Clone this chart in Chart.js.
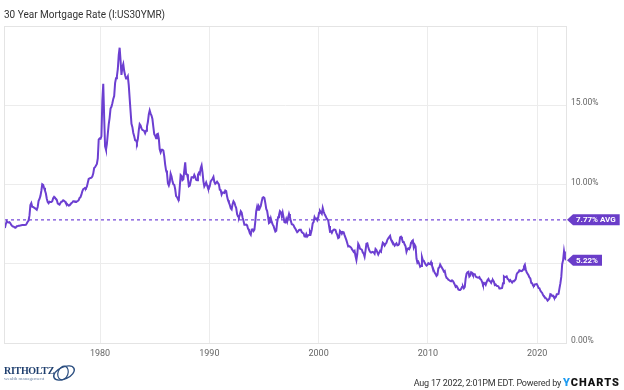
<!DOCTYPE html>
<html>
<head>
<meta charset="utf-8">
<script src="https://cdn.jsdelivr.net/npm/chart.js@4"></script>
<style>
  html, body { margin: 0; padding: 0; background: #fff; }
  #wrap { position: relative; width: 624px; height: 390px; font-family: Roboto, sans-serif; }
  #chartBox { position: absolute; left: 0; top: 0; width: 624px; height: 390px; }
  .title { position: absolute; left: 4px; top: 9px; font-size: 10px; color: #333; }
  .footer { position: absolute; right: 4px; top: 376px; font-size: 9px; color: #333; letter-spacing: -0.2px; }
  .footer b { font-size: 11px; color: #111; letter-spacing: 1px; font-weight: 900; }
  .footer b span { color: #1e9bf0; }
  .logo { position: absolute; left: 4px; top: 366px; color: #1f3f6e; font-family: "Liberation Serif", serif; }
  .logo .name { font-size: 10px; font-weight: bold; letter-spacing: -0.3px; line-height: 10px; }
  .logo .sub { font-size: 5px; color: #6f86a6; line-height: 6px; }
  .logo svg { position: absolute; left: 47px; top: -3px; }
</style>
</head>
<body>
<div id="wrap">
  <div id="chartBox"><canvas id="myChart"></canvas></div>
  <div class="title">30 Year Mortgage Rate (I:US30YMR)</div>
  <div class="logo">
    <div class="name">RITHOLTZ</div>
    <div class="sub">wealth management</div>
    <svg width="26" height="20" viewBox="0 0 26 20">
      <ellipse cx="13" cy="10" rx="11" ry="6" fill="none" stroke="#2c4f80" stroke-width="1.4" transform="rotate(-25 13 10)"/>
      <ellipse cx="12" cy="10" rx="5" ry="7" fill="none" stroke="#2c4f80" stroke-width="1.2" transform="rotate(20 12 10)"/>
    </svg>
  </div>
  <div class="footer">Aug 17 2022, 2:01PM EDT. Powered by <b><span>Y</span>CHARTS</b></div>
</div>
<script>
// 30 yr mortgage rate, monthly, starting Apr 1971
const startYear = 1971;
const startMonth = 4;
const rates = [
  7.26, 7.50, 7.68, 7.62, 7.60, 7.62, 7.55, 7.45, 7.38,
  7.35, 7.32, 7.29, 7.29, 7.37, 7.37, 7.40, 7.40, 7.42, 7.43, 7.44, 7.44,
  7.44, 7.44, 7.46, 7.54, 7.65, 7.73, 8.05, 8.70, 8.82, 8.60, 8.58, 8.54,
  8.54, 8.46, 8.41, 8.58, 8.97, 9.09, 9.28, 9.59, 10.02, 9.98, 9.79, 9.62,
  9.43, 9.10, 8.89, 8.82, 8.91, 8.89, 8.89, 8.94, 9.13, 9.22, 9.15, 9.10,
  9.02, 8.81, 8.76, 8.73, 8.83, 8.92, 8.93, 9.00, 8.97, 8.92, 8.81, 8.79,
  8.72, 8.67, 8.69, 8.75, 8.83, 8.86, 8.94, 8.94, 8.90, 8.92, 8.92, 8.96,
  9.01, 9.15, 9.20, 9.36, 9.57, 9.71, 9.74, 9.78, 9.76, 9.86, 10.11, 10.35,
  10.39, 10.41, 10.43, 10.50, 10.69, 11.04, 11.09, 11.09, 11.30, 11.64, 12.83, 12.90,
  12.88, 13.04, 15.28, 16.35, 14.26, 12.40, 12.19, 12.56, 13.20, 13.79, 14.21, 14.79,
  14.90, 15.13, 15.40, 15.58, 16.40, 16.70, 16.83, 17.29, 18.16, 18.63, 17.83, 16.92,
  17.40, 17.60, 17.16, 16.89, 16.68, 16.70, 16.82, 16.27, 15.43, 14.61, 13.83, 13.62,
  13.25, 13.04, 12.80, 12.78, 12.63, 12.87, 13.42, 13.81, 13.73, 13.54, 13.44, 13.42,
  13.37, 13.23, 13.39, 13.65, 13.94, 14.42, 14.67, 14.47, 14.35, 14.13, 13.64, 13.18,
  13.08, 12.92, 13.17, 13.20, 12.91, 12.22, 12.03, 12.19, 12.19, 12.14, 11.78, 11.26,
  10.88, 10.71, 10.08, 9.94, 10.14, 10.68, 10.51, 10.20, 10.01, 9.98, 9.70, 9.27,
  9.20, 9.08, 9.04, 9.83, 10.60, 10.54, 10.28, 10.33, 10.89, 11.40, 10.65, 10.64,
  10.38, 9.89, 9.93, 10.20, 10.46, 10.46, 10.43, 10.60, 10.48, 10.30, 10.27, 10.61,
  10.73, 10.65, 11.03, 11.20, 10.77, 10.20, 9.88, 9.99, 10.13, 9.95, 9.77, 9.74,
  9.90, 10.20, 10.27, 10.37, 10.48, 10.16, 10.04, 10.10, 10.18, 10.18, 10.01, 9.67,
  9.64, 9.37, 9.50, 9.49, 9.47, 9.62, 9.58, 9.24, 9.01, 8.86, 8.71, 8.50,
  8.43, 8.76, 8.94, 8.85, 8.67, 8.51, 8.13, 7.98, 7.92, 8.09, 8.31, 8.22,
  7.92, 7.71, 7.46, 7.46, 7.47, 7.42, 7.21, 7.11, 6.92, 6.83, 7.16, 7.17,
  7.06, 7.15, 7.68, 8.32, 8.60, 8.40, 8.61, 8.51, 8.64, 8.93, 9.17, 9.20,
  9.15, 8.83, 8.46, 8.32, 7.96, 7.57, 7.61, 7.86, 7.64, 7.48, 7.38, 7.20,
  7.03, 7.08, 7.62, 7.93, 8.07, 8.32, 8.25, 8.00, 8.23, 7.92, 7.62, 7.60,
  7.82, 7.65, 7.90, 8.14, 7.94, 7.69, 7.50, 7.48, 7.43, 7.29, 7.21, 7.10,
  6.99, 7.04, 7.13, 7.14, 7.14, 7.00, 6.95, 6.92, 6.72, 6.71, 6.87, 6.72,
  6.79, 6.81, 7.04, 6.92, 7.15, 7.55, 7.63, 7.94, 7.82, 7.85, 7.74, 7.91,
  8.21, 8.33, 8.24, 8.15, 8.52, 8.29, 8.15, 8.03, 7.91, 7.80, 7.75, 7.38,
  7.03, 7.05, 6.95, 7.08, 7.15, 7.16, 7.13, 6.95, 6.82, 6.62, 6.66, 7.07,
  7.00, 6.89, 7.01, 6.99, 6.81, 6.65, 6.49, 6.29, 6.09, 6.11, 6.07, 6.05,
  5.92, 5.84, 5.75, 5.81, 5.48, 5.23, 5.63, 6.26, 6.15, 5.95, 5.93, 5.88,
  5.71, 5.64, 5.45, 5.83, 6.27, 6.29, 6.06, 5.87, 5.75, 5.72, 5.73, 5.75,
  5.71, 5.63, 5.93, 5.86, 5.72, 5.58, 5.70, 5.82, 5.77, 6.07, 6.33, 6.27,
  6.15, 6.25, 6.32, 6.51, 6.60, 6.68, 6.76, 6.52, 6.40, 6.36, 6.24, 6.14,
  6.22, 6.29, 6.16, 6.18, 6.26, 6.66, 6.70, 6.57, 6.38, 6.38, 6.21, 6.10,
  5.76, 5.92, 5.97, 5.92, 6.04, 6.32, 6.43, 6.48, 6.04, 6.20, 6.09, 5.33,
  5.06, 5.13, 5.00, 4.81, 4.86, 5.42, 5.22, 5.19, 5.06, 4.95, 4.88, 4.93,
  5.03, 4.99, 4.97, 5.10, 4.89, 4.74, 4.56, 4.43, 4.35, 4.23, 4.30, 4.71,
  4.76, 4.95, 4.84, 4.84, 4.64, 4.51, 4.55, 4.27, 4.11, 4.07, 3.99, 3.96,
  3.92, 3.89, 3.95, 3.91, 3.80, 3.68, 3.55, 3.60, 3.50, 3.38, 3.35, 3.35,
  3.41, 3.53, 3.57, 3.45, 3.54, 4.07, 4.37, 4.46, 4.49, 4.19, 4.26, 4.46,
  4.43, 4.30, 4.34, 4.34, 4.19, 4.16, 4.13, 4.12, 4.16, 4.04, 4.00, 3.86,
  3.67, 3.71, 3.77, 3.67, 3.84, 3.98, 4.05, 3.91, 3.89, 3.80, 3.94, 3.96,
  3.87, 3.66, 3.69, 3.61, 3.60, 3.57, 3.44, 3.44, 3.46, 3.47, 3.77, 4.20,
  4.15, 4.17, 4.20, 4.05, 4.01, 3.90, 3.97, 3.88, 3.81, 3.90, 3.92, 3.95,
  4.03, 4.33, 4.44, 4.47, 4.59, 4.57, 4.53, 4.55, 4.63, 4.83, 4.94, 4.64,
  4.46, 4.37, 4.27, 4.14, 4.07, 3.80, 3.77, 3.62, 3.61, 3.69, 3.70, 3.72,
  3.62, 3.47, 3.45, 3.31, 3.23, 3.16, 3.02, 2.94, 2.89, 2.83, 2.77, 2.68,
  2.74, 2.81, 3.08, 3.06, 2.96, 2.98, 2.87, 2.84, 2.90, 3.07, 3.07, 3.10,
  3.45, 3.76, 4.17, 4.98, 5.23, 5.78, 5.41, 5.22
];
const xTicks = [1980, 1990, 2000, 2010, 2020];
const yTicks = [0, 5, 10, 15, 20];
const avgRate = 7.77;
const lastRate = 5.22;

const purple = '#6c3fd1';
const points = rates.map((r, i) => ({
  x: startYear + (startMonth - 1 + i) / 12 + 1 / 24,
  y: r
}));
const xMin = 1971.3, xMax = 2022.64;

// frame round the plot area
const framePlugin = {
  id: 'frame',
  beforeDatasetsDraw(chart) {
    const a = chart.chartArea;
    const c = chart.ctx;
    c.save();
    c.strokeStyle = '#e4e4e4';
    c.lineWidth = 1;
    c.strokeRect(Math.round(a.left) - 0.5, Math.round(a.top) + 0.5, Math.round(a.right - a.left) + 1, Math.round(a.bottom - a.top));
    c.restore();
  }
};

// badges on the right side of the plot
const badgePlugin = {
  id: 'badges',
  afterDraw(chart) {
    const c = chart.ctx;
    const y = chart.scales.y;
    const left = chart.chartArea.right + 1;
    const draw = (val, txt) => {
      const py = y.getPixelForValue(val);
      c.save();
      c.font = 'bold 8px Roboto, sans-serif';
      const w = c.measureText(txt).width + 7;
      c.fillStyle = '#6a3dc9';
      c.beginPath();
      c.moveTo(left, py);
      c.lineTo(left + 6, py - 5.5);
      c.lineTo(left + 6 + w, py - 5.5);
      c.lineTo(left + 6 + w, py + 5.5);
      c.lineTo(left + 6, py + 5.5);
      c.closePath();
      c.fill();
      c.fillStyle = '#fff';
      c.textBaseline = 'middle';
      c.fillText(txt, left + 9, py + 0.5);
      c.restore();
    };
    draw(avgRate, avgRate.toFixed(2) + '% AVG');
    draw(lastRate, lastRate.toFixed(2) + '%');
  }
};

new Chart(document.getElementById('myChart'), {
  type: 'line',
  data: {
    datasets: [{
      data: points,
      borderColor: purple,
      borderWidth: 2,
      pointRadius: 0,
      tension: 0
    }, {
      data: [{ x: xMin, y: avgRate }, { x: xMax, y: avgRate }],
      borderColor: '#8d68e0',
      borderWidth: 1.5,
      borderDash: [3, 3],
      pointRadius: 0
    }]
  },
  options: {
    responsive: true,
    maintainAspectRatio: false,
    animation: false,
    layout: { padding: { top: 26, left: 5, right: 0, bottom: 27 } },
    plugins: { legend: { display: false }, tooltip: { enabled: false } },
    scales: {
      x: {
        type: 'linear',
        min: xMin,
        max: xMax,
        afterBuildTicks: ax => { ax.ticks = xTicks.map(v => ({ value: v })); },
        afterFit: ax => { ax.height = 20; },
        grid: { color: '#ececec', drawTicks: false },
        border: { display: false },
        ticks: { color: '#666', font: { family: 'Roboto', size: 9 }, padding: 5, callback: v => String(v) }
      },
      y: {
        position: 'right',
        min: 0,
        max: 20,
        afterBuildTicks: ax => { ax.ticks = yTicks.map(v => ({ value: v })); },
        afterFit: ax => { ax.width = 58; },
        grid: { color: '#ececec', drawTicks: false },
        border: { color: '#e4e4e4' },
        ticks: {
          color: '#666',
          font: { family: 'Roboto', size: 8.5 },
          padding: 5,
          labelOffset: -2,
          callback: v => v === 20 ? '' : v.toFixed(2) + '%'
        }
      }
    }
  },
  plugins: [framePlugin, badgePlugin]
});
</script>
</body>
</html>
